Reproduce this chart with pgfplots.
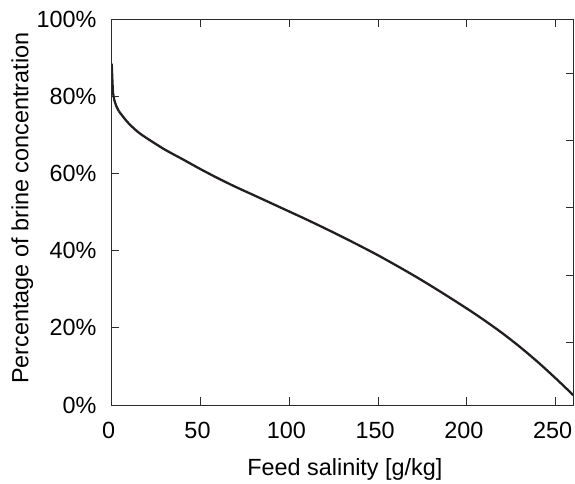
\documentclass[border=0pt]{standalone}
\usepackage{pgfplots}
\pgfplotsset{compat=1.18}
\usepackage{fontspec}
\setmainfont{Liberation Sans}
\definecolor{curve}{HTML}{231F20}
\definecolor{frame}{HTML}{2B2B2B}
\begin{document}
\fontsize{23.4bp}{28bp}\selectfont
\begin{tikzpicture}
\path[use as bounding box] (-111.7bp,-79bp) rectangle (463.3bp,405bp);
\begin{axis}[
  at={(0,0)}, anchor=south west,
  scale only axis, width=461.8bp, height=385.7bp,
  xmin=0, xmax=260, ymin=0, ymax=100,
  xtick={0,50,100,150,200,250},
  xticklabels={0,50,100,150,200,250},
  ytick={0,20,40,60,80,100},
  yticklabels={0\%,20\%,40\%,60\%,80\%,100\%},
  xtick pos=both, ytick pos=left,
  tick align=inside,
  major tick length=7.5bp,
  axis line style={frame, line width=1bp},
  every tick/.style={frame, line width=1bp},
  xticklabel style={anchor=base, inner sep=0pt, yshift=-33.3bp, xshift=-3bp},
  yticklabel style={anchor=east, inner sep=0pt, xshift=-15bp},
  xlabel={Feed salinity [g/kg]},
  ylabel={Percentage of brine concentration},
  xlabel style={at={(axis description cs:0.505,-0.1815)}, anchor=base, inner sep=0pt},
  ylabel style={at={(axis description cs:-0.1804,0.51)}, anchor=base, inner sep=0pt},
]
\addplot[curve, line width=2.3bp, line join=round] coordinates {
(0,88.5) (0.3,85) (0.7,81) (1.5,79) (2.6,77.5) (4,76.2)
};
\addplot[curve, line width=2.3bp, line join=round, smooth, tension=0.5] coordinates {
(4,76.2) (7,74.4) (10,72.8) (15,70.7) (20,69.1) (30,66.2) (40,63.7)
(50,61.15) (60,58.75) (70,56.5) (80,54.4) (94.6,51.3) (111.5,47.7)
(130,43.55) (150,38.8) (170,33.6) (185,29.4) (200,25.0) (210,21.9)
(220,18.6) (230,15.0) (240,11.1) (250,6.9) (260,2.5)
};
\end{axis}
\begin{axis}[
  at={(0,0)}, anchor=south west,
  scale only axis, width=461.8bp, height=385.7bp,
  xmin=0, xmax=260, ymin=0, ymax=100,
  xtick=\empty,
  ytick={16.3,33.7,51.1,68.6,86.0},
  yticklabels={},
  ytick pos=right,
  tick align=inside,
  major tick length=7.5bp,
  axis line style={frame, line width=1bp},
  every tick/.style={frame, line width=1bp},
]
\end{axis}
\end{tikzpicture}
\end{document}
